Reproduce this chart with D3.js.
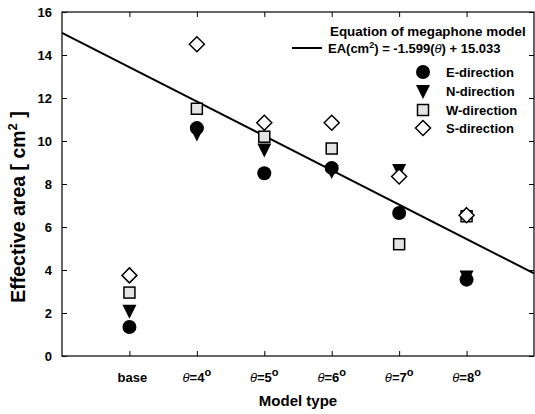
<!DOCTYPE html>
<html>
<head>
<meta charset="utf-8">
<script src="https://cdn.jsdelivr.net/npm/d3@7"></script>
<style>
  body { margin: 0; background: #fff; }
  text { font-family: "Liberation Sans", Arial, sans-serif; font-weight: bold; }
</style>
</head>
<body>
<div id="chart"></div>
<script>
// categories on x (index 1..6), theta labels
var categories = ["base", "4", "5", "6", "7", "8"];
var eDir = [1.35, 10.6, 8.5, 8.75, 6.65, 3.55];
var nDir = [2.1, 10.35, 9.6, 8.6, 8.65, 3.7];
var wDir = [2.95, 11.5, 10.2, 9.65, 5.2, 6.5];
var sDir = [3.75, 14.5, 10.85, 10.85, 8.35, 6.55];
var yTicks = [0, 2, 4, 6, 8, 10, 12, 14, 16];
var slope = -1.599, intercept = 15.033;

var margin = {top: 12, right: 1, bottom: 58, left: 62},
    width = 535 - margin.left - margin.right,
    height = 414 - margin.top - margin.bottom;

var svg = d3.select("#chart")
  .append("svg")
    .attr("width", 535)
    .attr("height", 414)
  .append("g")
    .attr("transform", "translate(" + margin.left + "," + margin.top + ")");

var x = d3.scaleLinear().domain([0, 7]).range([0, width]);
var y = d3.scaleLinear().domain([0, 16]).range([height, 0]);

// frame
svg.append("rect")
  .attr("width", width).attr("height", height)
  .attr("fill", "none").attr("stroke", "#000").attr("stroke-width", 1.2);

// y axis (inward ticks)
var yAxis = svg.append("g")
  .call(d3.axisLeft(y).tickValues(yTicks).tickSize(-5).tickPadding(10).tickFormat(d3.format("d")));
yAxis.select(".domain").remove();
yAxis.selectAll("text").style("font-size", "13px").attr("fill", "#000");

var yRight = svg.append("g")
  .attr("transform", "translate(" + width + ",0)")
  .call(d3.axisRight(y).tickValues(yTicks).tickSize(-5).tickFormat(""));
yRight.select(".domain").remove();

// x axis
var xIdx = d3.range(1, categories.length + 1);
var xAxis = svg.append("g")
  .attr("transform", "translate(0," + height + ")")
  .call(d3.axisBottom(x).tickValues(xIdx).tickSize(-5).tickFormat(""));
xAxis.select(".domain").remove();
var xTop = svg.append("g")
  .call(d3.axisTop(x).tickValues(xIdx).tickSize(-5).tickFormat(""));
xTop.select(".domain").remove();

// x tick labels
categories.forEach(function(c, i) {
  var t = svg.append("text")
    .attr("x", x(i + 1) + (c === "base" ? 3 : 0))
    .attr("y", height + 26)
    .attr("text-anchor", "middle")
    .style("font-size", "13px");
  if (c === "base") {
    t.text("base");
  } else {
    t.append("tspan").text("\u03b8").style("font-style", "italic").style("font-weight", "normal");
    t.append("tspan").text("=" + c);
    t.append("tspan").text("o").attr("dy", -6).style("font-size", "11px");
  }
});

// axis titles
svg.append("text")
  .attr("x", x(3.5))
  .attr("y", height + 50)
  .attr("text-anchor", "middle")
  .style("font-size", "15px")
  .text("Model type");

var yt = svg.append("text")
  .attr("transform", "translate(-37," + (height / 2 + 23) + ") rotate(-90)")
  .attr("text-anchor", "middle")
  .style("font-size", "19.5px");
yt.append("tspan").text("Effective area [ cm");
yt.append("tspan").text("2").attr("dy", -8).style("font-size", "13px");
yt.append("tspan").text(" ]").attr("dy", 8);

// regression line
svg.append("line")
  .attr("x1", x(0)).attr("y1", y(intercept))
  .attr("x2", x(7)).attr("y2", y(slope * 7 + intercept))
  .attr("stroke", "#000").attr("stroke-width", 2);

// markers
function marker(g, type, cx, cy) {
  if (type === "circle") {
    g.append("circle").attr("cx", cx).attr("cy", cy).attr("r", 7).attr("fill", "#000");
  } else if (type === "tri") {
    g.append("path")
      .attr("d", "M" + (cx - 7) + "," + (cy - 6) + "L" + (cx + 7) + "," + (cy - 6) + "L" + cx + "," + (cy + 8) + "Z")
      .attr("fill", "#000");
  } else if (type === "square") {
    g.append("rect").attr("x", cx - 5.5).attr("y", cy - 5.5).attr("width", 11).attr("height", 11)
      .attr("fill", "#e4e4e4").attr("stroke", "#000").attr("stroke-width", 1.5);
  } else {
    g.append("path")
      .attr("d", "M" + cx + "," + (cy - 7.5) + "L" + (cx + 7.5) + "," + cy + "L" + cx + "," + (cy + 7.5) + "L" + (cx - 7.5) + "," + cy + "Z")
      .attr("fill", "#fff").attr("stroke", "#000").attr("stroke-width", 1.5);
  }
}
function drawSeries(vals, type) {
  vals.forEach(function(v, i) { marker(svg, type, x(i + 1), y(v)); });
}
drawSeries(eDir, "circle");
drawSeries(nDir, "tri");
drawSeries(wDir, "square");
drawSeries(sDir, "diamond");

// legend
var lg = svg.append("g").attr("transform", "translate(" + (-margin.left) + "," + (-margin.top) + ")");
lg.append("text").attr("x", 330).attr("y", 36).style("font-size", "13.4px").text("Equation of megaphone model");
lg.append("line").attr("x1", 292).attr("x2", 322).attr("y1", 48).attr("y2", 48)
  .attr("stroke", "#000").attr("stroke-width", 2);
var eq = lg.append("text").attr("x", 328).attr("y", 53).style("font-size", "13px");
eq.append("tspan").text("EA(cm");
eq.append("tspan").text("2").attr("dy", -5).style("font-size", "9px");
eq.append("tspan").text(") = -1.599(").attr("dy", 5);
eq.append("tspan").text("\u03b8").style("font-style", "italic").style("font-weight", "normal");
eq.append("tspan").text(") + 15.033");

var legendItems = [
  {label: "E-direction", type: "circle", y: 72},
  {label: "N-direction", type: "tri", y: 91},
  {label: "W-direction", type: "square", y: 110},
  {label: "S-direction", type: "diamond", y: 128}
];
legendItems.forEach(function(d) {
  marker(lg, d.type, 423, d.y);
  lg.append("text").attr("x", 446).attr("y", d.y + 5).style("font-size", "13px").text(d.label);
});
</script>
</body>
</html>
